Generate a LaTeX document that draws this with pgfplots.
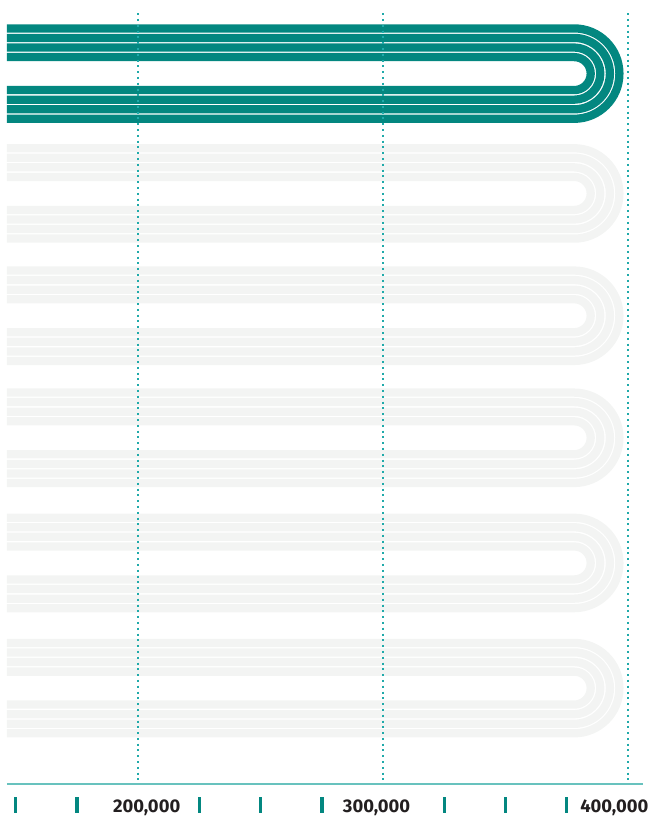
\documentclass[border=0pt]{standalone}
\usepackage{fontspec}
\setmainfont{Fira Sans}
\usepackage{pgfplots}
\pgfplotsset{compat=1.18}

\definecolor{trackteal}{RGB}{3,135,128}
\definecolor{trackgray}{RGB}{243,244,243}
\definecolor{gridcol}{RGB}{32,170,170}
\definecolor{axiscol}{RGB}{104,194,190}
\definecolor{labelcol}{RGB}{35,31,32}

% one lane of a track: colour, top row, bottom row, turn x, corner radius
\newcommand{\lane}[5]{%
  \addplot[#1, line width=6.2pt, rounded corners=#5]
    coordinates {(146408,#2) (#4,#2) (#4,#3) (146408,#3)};}

\begin{document}
\begin{tikzpicture}
\begin{axis}[
  scale only axis,
  width=489.75pt, height=612pt,
  xmin=143551, xmax=410082,
  ymin=0, ymax=816, y dir=reverse,
  axis line style={draw=none},
  clip=false,
  ytick=\empty,
  scaled x ticks=false,
  xtick={203429,297306,394367},
  xticklabels={{200,000},{300,000},{400,000}},
  major tick length=0pt,
  xticklabel style={anchor=base, inner sep=0pt, text depth=0pt, yshift=2.5pt,
    font=\bfseries\fontsize{13.8pt}{14pt}\selectfont, text=labelcol},
]
% track 1 (highlighted)
\lane{trackteal}{28.3}{118.7}{396449}{33.9pt}
\lane{trackteal}{37.8}{109.2}{392571}{26.775pt}
\lane{trackteal}{47.4}{99.6}{388653}{19.575pt}
\lane{trackteal}{57.0}{90.0}{384735}{12.375pt}
% track 2
\lane{trackgray}{148.15}{238.55}{396449}{33.9pt}
\lane{trackgray}{157.65}{229.05}{392571}{26.775pt}
\lane{trackgray}{167.25}{219.45}{388653}{19.575pt}
\lane{trackgray}{176.85}{209.85}{384735}{12.375pt}
% track 3
\lane{trackgray}{270.5}{360.9}{396449}{33.9pt}
\lane{trackgray}{280.0}{351.4}{392571}{26.775pt}
\lane{trackgray}{289.6}{341.8}{388653}{19.575pt}
\lane{trackgray}{299.2}{332.2}{384735}{12.375pt}
% track 4
\lane{trackgray}{392.6}{483.0}{396449}{33.9pt}
\lane{trackgray}{402.1}{473.5}{392571}{26.775pt}
\lane{trackgray}{411.7}{463.9}{388653}{19.575pt}
\lane{trackgray}{421.3}{454.3}{384735}{12.375pt}
% track 5
\lane{trackgray}{517.8}{608.2}{396449}{33.9pt}
\lane{trackgray}{527.3}{598.7}{392571}{26.775pt}
\lane{trackgray}{536.9}{589.1}{388653}{19.575pt}
\lane{trackgray}{546.5}{579.5}{384735}{12.375pt}
% track 6
\lane{trackgray}{643.0}{733.4}{396449}{33.9pt}
\lane{trackgray}{652.5}{723.9}{392571}{26.775pt}
\lane{trackgray}{662.1}{714.3}{388653}{19.575pt}
\lane{trackgray}{671.7}{704.7}{384735}{12.375pt}

% dotted grid lines
\addplot[gridcol, line width=1.5pt, dash pattern=on 1.5pt off 2.85pt] coordinates {(200000,13) (200000,784)};
\addplot[gridcol, line width=1.5pt, dash pattern=on 1.5pt off 2.85pt] coordinates {(300000,13) (300000,784)};
\addplot[gridcol, line width=1.5pt, dash pattern=on 1.5pt off 2.85pt] coordinates {(400000,13) (400000,784)};

% baseline
\addplot[axiscol, line width=1.2pt] coordinates {(146408,784) (406000,784)};

% small tick bars every 25,000
\addplot[only marks, mark=|, mark size=5.8pt, mark options={trackteal, line width=2.4pt}]
  coordinates {(150000,805) (175000,805) (225000,805) (250000,805)
               (275000,805) (325000,805) (350000,805) (375000,805)};
\end{axis}
\end{tikzpicture}
\end{document}
